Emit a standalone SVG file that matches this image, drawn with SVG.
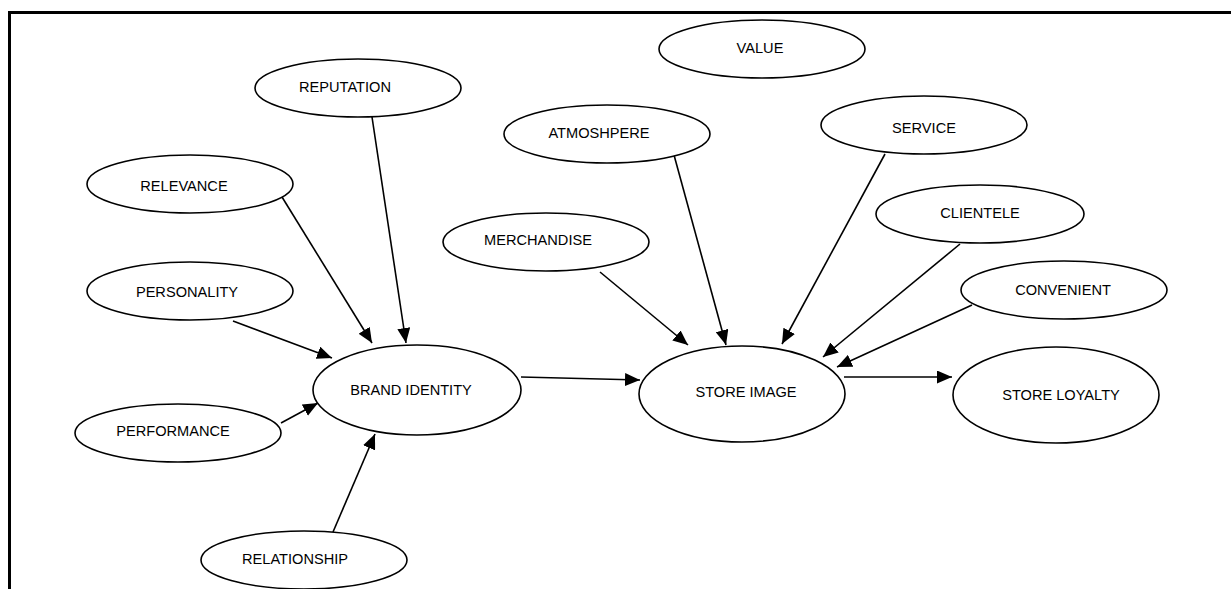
<svg xmlns="http://www.w3.org/2000/svg" width="1231" height="589" viewBox="0 0 1231 589">
<style>
.n ellipse{fill:#fff;stroke:#000;stroke-width:1.6}
.n text{font-family:"Liberation Sans",Arial,sans-serif;font-size:14.6px;fill:#000;text-anchor:middle}
.c line{stroke:#000;stroke-width:1.6;marker-end:url(#ah)}
.frame{fill:none;stroke:#000;stroke-width:3}
</style>
<defs>
<marker id="ah" markerUnits="userSpaceOnUse" markerWidth="16" markerHeight="13" refX="15" refY="6.5" orient="auto">
<path d="M0,0 L15,6.5 L0,13 z" fill="#000"/>
</marker>
</defs>
<rect width="1231" height="589" fill="#fff"/>
<path class="frame" d="M9.5,589 L9.5,12.5 L1231,12.5"/>
<g class="c">
<line x1="282" y1="197" x2="372" y2="343"/>
<line x1="372" y1="117" x2="406" y2="343"/>
<line x1="233" y1="321" x2="332" y2="358"/>
<line x1="281" y1="423" x2="318" y2="403"/>
<line x1="333" y1="532" x2="375" y2="434"/>
<line x1="521" y1="377" x2="640" y2="380"/>
<line x1="600" y1="272" x2="688" y2="345"/>
<line x1="674" y1="155" x2="726" y2="345"/>
<line x1="885" y1="154" x2="782" y2="344"/>
<line x1="960" y1="244" x2="823" y2="357"/>
<line x1="972" y1="305" x2="837" y2="367"/>
<line x1="844" y1="377" x2="952" y2="377"/>
</g>
<g id="reputation" class="n"><ellipse cx="358" cy="88" rx="103" ry="29"/><text x="345" y="92">REPUTATION</text></g>
<g id="value" class="n"><ellipse cx="762" cy="49" rx="103" ry="29"/><text x="760" y="53">VALUE</text></g>
<g id="atmoshpere" class="n"><ellipse cx="607" cy="134" rx="103" ry="29"/><text x="599" y="138">ATMOSHPERE</text></g>
<g id="service" class="n"><ellipse cx="924" cy="125" rx="103" ry="29"/><text x="924" y="133">SERVICE</text></g>
<g id="relevance" class="n"><ellipse cx="190" cy="184" rx="103" ry="29"/><text x="184" y="191">RELEVANCE</text></g>
<g id="merchandise" class="n"><ellipse cx="546" cy="242" rx="103" ry="29"/><text x="538" y="245">MERCHANDISE</text></g>
<g id="clientele" class="n"><ellipse cx="980" cy="214" rx="104" ry="29"/><text x="980" y="218">CLIENTELE</text></g>
<g id="personality" class="n"><ellipse cx="190" cy="291" rx="103" ry="29"/><text x="187" y="297">PERSONALITY</text></g>
<g id="convenient" class="n"><ellipse cx="1064" cy="290" rx="103" ry="29"/><text x="1063" y="295">CONVENIENT</text></g>
<g id="brand-identity" class="n"><ellipse cx="417" cy="390" rx="104" ry="45"/><text x="411" y="395">BRAND IDENTITY</text></g>
<g id="store-image" class="n"><ellipse cx="742" cy="394" rx="103" ry="48"/><text x="746" y="397">STORE IMAGE</text></g>
<g id="store-loyalty" class="n"><ellipse cx="1056" cy="395" rx="103" ry="48"/><text x="1061" y="400">STORE LOYALTY</text></g>
<g id="performance" class="n"><ellipse cx="178" cy="433" rx="103" ry="29"/><text x="173" y="436">PERFORMANCE</text></g>
<g id="relationship" class="n"><ellipse cx="304" cy="560" rx="103" ry="29"/><text x="295" y="564">RELATIONSHIP</text></g>
</svg>
